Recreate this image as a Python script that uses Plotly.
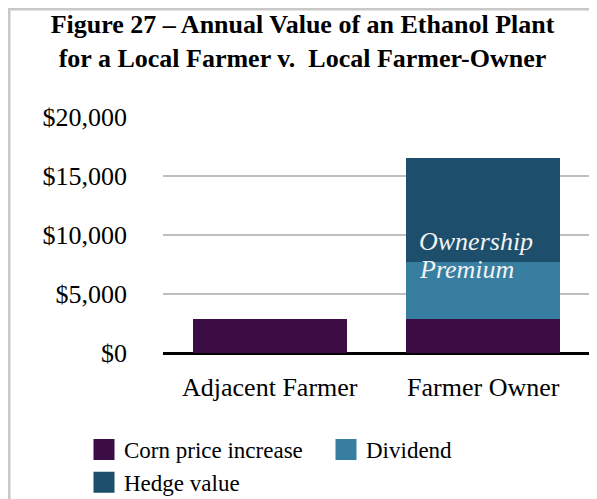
import plotly.graph_objects as go

categories = ["Adjacent Farmer", "Farmer Owner"]
corn_price_increase = [2900, 2900]
dividend = [0, 4800]
hedge_value = [0, 8850]
tick_values = [0, 5000, 10000, 15000, 20000]
tick_labels = ["$0", "$5,000", "$10,000", "$15,000", "$20,000"]

series = [
    ("Corn price increase", corn_price_increase, "#3C0C45"),
    ("Dividend", dividend, "#377EA1"),
    ("Hedge value", hedge_value, "#1D4E6B"),
]

FONT = "Liberation Serif, Times New Roman, serif"
fig = go.Figure()
for name, vals, col in series:
    fig.add_trace(go.Bar(x=categories, y=vals, name=name, marker=dict(color=col, line=dict(width=0)),
                         showlegend=False))
    fig.add_trace(go.Scatter(x=[None], y=[None], mode="markers", name=name,
                             marker=dict(symbol="square", size=16, color=col, line=dict(width=5, color=col))))

# figure is drawn inside an 8px page margin; sizes chosen to fill the 597x499 window
W, H = 589, 491
L, R, T, B = 155, 7, 109, 146
pw, ph = W - L - R, H - T - B

def px_x(x):
    return (x - L) / pw

def px_y(y):
    return (H - B - y) / ph

fig.update_layout(
    width=W, height=H,
    margin=dict(l=L, r=R, t=T, b=B, autoexpand=False),
    paper_bgcolor="white", plot_bgcolor="white",
    barmode="stack", bargap=0.28,
    font=dict(family=FONT, color="black"),
    title=dict(text="<b>Figure 27 – Annual Value of an Ethanol Plant<br>for a Local Farmer v.  Local Farmer-Owner</b>",
               x=0.5, xref="container", xanchor="center", y=1 - 25 / H, yref="container", yanchor="middle",
               font=dict(size=26, family=FONT, color="black")),
    xaxis=dict(showgrid=False, showline=False, ticks="", tickfont=dict(size=26), zeroline=False,
               automargin=False),
    yaxis=dict(range=[0, 20000], tickvals=tick_values, ticktext=tick_labels, tickfont=dict(size=26),
               showgrid=True, gridcolor="#BFBFBF", gridwidth=2, zeroline=True, zerolinecolor="black",
               zerolinewidth=2.5, showline=False, ticks="", ticklen=0, automargin=False),
    legend=dict(orientation="h", x=px_x(76), xref="paper", xanchor="left",
                y=px_y(420), yref="paper", yanchor="top", traceorder="normal",
                font=dict(size=23, family=FONT), entrywidth=197, entrywidthmode="pixels",
                bgcolor="rgba(0,0,0,0)", tracegroupgap=0),
    annotations=[
        dict(x="Farmer Owner", y=9420, xref="x", yref="y", xanchor="left", yanchor="middle",
             xshift=-66, showarrow=False, text="<i>Ownership</i>",
             font=dict(size=26, family=FONT, color="#F2F2F2")),
        dict(x="Farmer Owner", y=7050, xref="x", yref="y", xanchor="left", yanchor="middle",
             xshift=-66, showarrow=False, text="<i>Premium</i>",
             font=dict(size=26, family=FONT, color="#F2F2F2")),
    ],
    shapes=[
        dict(type="line", xref="paper", yref="paper", x0=px_x(1), x1=px_x(1), y0=px_y(0), y1=px_y(520),
             line=dict(color="#C8C8C8", width=3)),
        dict(type="line", xref="paper", yref="paper", x0=px_x(-1), x1=px_x(620), y0=px_y(1), y1=px_y(1),
             line=dict(color="#C8C8C8", width=3)),
    ],
)
fig.update_xaxes(ticklabelstandoff=16)
fig.update_yaxes(ticklabelstandoff=35)
fig.write_html("out.html")
